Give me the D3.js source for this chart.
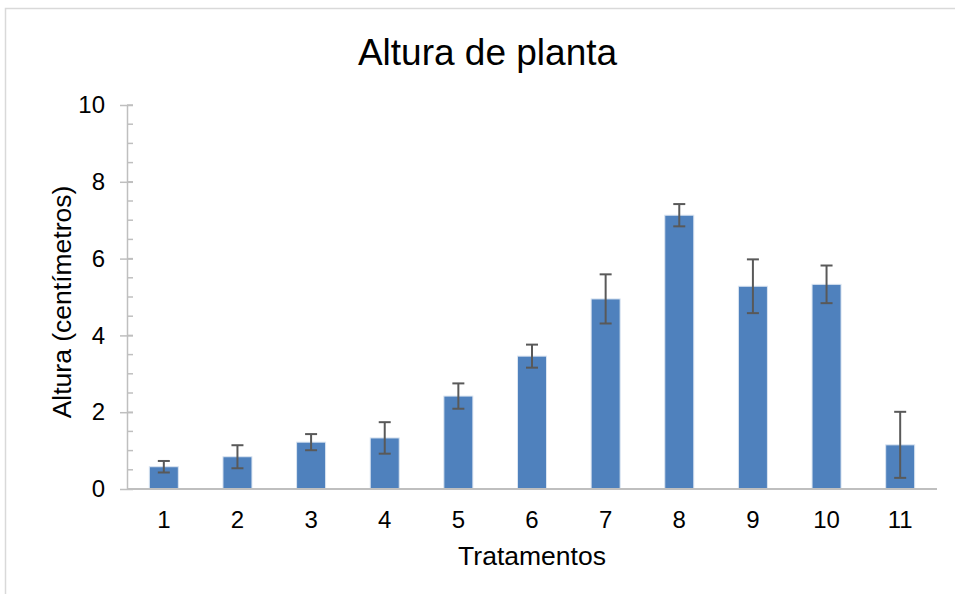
<!DOCTYPE html>
<html>
<head>
<meta charset="utf-8">
<script src="https://cdn.jsdelivr.net/npm/d3@7"></script>
<style>
  html, body { margin: 0; padding: 0; background: #fff; }
  svg { display: block; font-family: "Liberation Sans", Arial, sans-serif; }
</style>
</head>
<body>
<svg id="chart" width="955" height="594"></svg>
<script>
// data
const tratamentos = ['1', '2', '3', '4', '5', '6', '7', '8', '9', '10', '11'];
const alturas = [0.58, 0.84, 1.22, 1.33, 2.42, 3.46, 4.95, 7.13, 5.28, 5.33, 1.15];
const errores = [0.15, 0.30, 0.21, 0.41, 0.33, 0.30, 0.64, 0.29, 0.70, 0.49, 0.86];
const yTicks = [0, 2, 4, 6, 8, 10];
const yMinorTicks = d3.range(0, 10.01, 0.5);

const svg = d3.select('#chart');
const margin = {top: 105, right: 18, bottom: 105, left: 127};
const width = 955, height = 594;

// chart area border (runs off the page on the right and bottom)
svg.append('rect')
  .attr('x', 5.5).attr('y', 8.5)
  .attr('width', 1000).attr('height', 700)
  .attr('fill', '#fff')
  .attr('stroke', '#d9d9d9')
  .attr('stroke-width', 1.5);

const x = d3.scaleBand()
  .domain(tratamentos)
  .range([margin.left, width - margin.right])
  .paddingInner(0.606)
  .paddingOuter(0.303);

const y = d3.scaleLinear()
  .domain([0, 10])
  .range([height - margin.bottom, margin.top]);

const axisColor = '#bfbfbf';

// minor ticks (inside)
svg.append('g')
  .selectAll('line')
  .data(yMinorTicks)
  .join('line')
  .attr('x1', margin.left).attr('x2', margin.left + 6)
  .attr('y1', d => y(d)).attr('y2', d => y(d))
  .attr('stroke', axisColor).attr('stroke-width', 1.5);

// y axis with crossing major ticks
const yAxis = svg.append('g')
  .attr('transform', `translate(${margin.left},0)`)
  .call(d3.axisLeft(y).tickValues(yTicks).tickSizeInner(7).tickSizeOuter(0).tickPadding(15));
yAxis.select('.domain').attr('stroke', axisColor).attr('stroke-width', 1.5);
yAxis.selectAll('.tick line').attr('stroke', axisColor).attr('stroke-width', 1.5).attr('x2', 6).attr('x1', -7);
yAxis.selectAll('.tick text')
  .attr('fill', '#000')
  .attr('font-size', 24)
  .attr('font-family', '"Liberation Sans", Arial, sans-serif');

// bars
svg.append('g')
  .selectAll('rect')
  .data(alturas)
  .join('rect')
  .attr('x', (d, i) => x(tratamentos[i]))
  .attr('width', x.bandwidth())
  .attr('y', d => y(d))
  .attr('height', d => y(0) - y(d))
  .attr('fill', '#4f81bd')
  .attr('stroke', '#dbe5f1')
  .attr('stroke-width', 1);

// x axis line
const xAxis = svg.append('g')
  .attr('transform', `translate(0,${y(0)})`)
  .call(d3.axisBottom(x).tickSize(0).tickPadding(22));
xAxis.select('.domain')
  .attr('stroke', axisColor).attr('stroke-width', 2)
  .attr('d', `M${margin.left},0H${width - margin.right}`);
xAxis.selectAll('.tick text')
  .attr('fill', '#000')
  .attr('font-size', 24)
  .attr('font-family', '"Liberation Sans", Arial, sans-serif');

// error bars
const err = svg.append('g')
  .attr('stroke', '#595959')
  .attr('stroke-width', 2)
  .selectAll('g')
  .data(alturas)
  .join('g');
const cx = i => x(tratamentos[i]) + x.bandwidth() / 2;
err.append('line')
  .attr('x1', (d, i) => cx(i)).attr('x2', (d, i) => cx(i))
  .attr('y1', (d, i) => y(d + errores[i])).attr('y2', (d, i) => y(d - errores[i]));
err.append('line')
  .attr('x1', (d, i) => cx(i) - 6).attr('x2', (d, i) => cx(i) + 6)
  .attr('y1', (d, i) => y(d + errores[i])).attr('y2', (d, i) => y(d + errores[i]));
err.append('line')
  .attr('x1', (d, i) => cx(i) - 6).attr('x2', (d, i) => cx(i) + 6)
  .attr('y1', (d, i) => y(d - errores[i])).attr('y2', (d, i) => y(d - errores[i]));

// titles
svg.append('text')
  .attr('x', 487.5).attr('y', 65)
  .attr('text-anchor', 'middle')
  .attr('font-size', 37)
  .attr('fill', '#000')
  .text('Altura de planta');

svg.append('text')
  .attr('x', (margin.left + width - margin.right) / 2).attr('y', 565)
  .attr('text-anchor', 'middle')
  .attr('font-size', 26.5)
  .attr('fill', '#000')
  .text('Tratamentos');

svg.append('text')
  .attr('transform', `translate(71,${(y(0) + y(10)) / 2 + 5}) rotate(-90)`)
  .attr('text-anchor', 'middle')
  .attr('font-size', 26.5)
  .attr('fill', '#000')
  .text('Altura (centímetros)');
</script>
</body>
</html>
